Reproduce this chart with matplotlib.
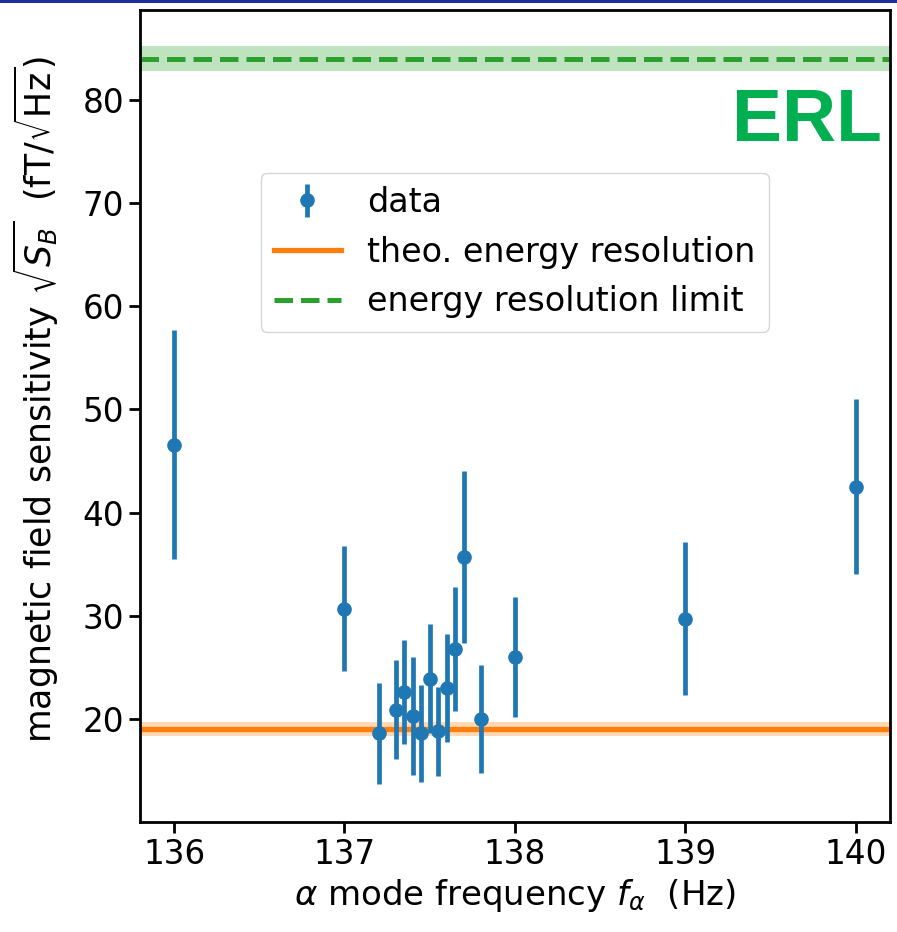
import numpy as np
import matplotlib
matplotlib.use("Agg")
import matplotlib.pyplot as plt
from matplotlib.patches import Rectangle

# measured sensitivity per alpha mode frequency
freq_Hz = [136.0, 137.0, 137.2, 137.3, 137.35, 137.4, 137.45, 137.5,
           137.55, 137.6, 137.65, 137.7, 137.8, 138.0, 139.0, 140.0]
sens = [46.6, 30.7, 18.6, 20.9, 22.6, 20.3, 18.6, 23.9,
        18.8, 23.0, 26.8, 35.7, 20.0, 26.0, 29.7, 42.5]
sens_err = [11.1, 6.1, 4.9, 4.8, 5.0, 5.7, 4.7, 5.3,
            4.3, 5.2, 6.0, 8.3, 5.2, 5.8, 7.4, 8.5]

theo_res = 19.0
theo_res_err = 0.7
erl = 84.0
erl_err = 1.2

plt.rcParams['font.family'] = 'DejaVu Sans'
plt.rcParams['mathtext.fontset'] = 'dejavusans'

fig = plt.figure(figsize=(8.97, 9.32), dpi=100)
ax = fig.add_axes([0.156, 0.118, 0.836, 0.871])

ax.axhspan(theo_res - theo_res_err, theo_res + theo_res_err,
           color='C1', alpha=0.3, lw=0)
ax.axhline(theo_res, color='C1', lw=3.8, label='theo. energy resolution')
ax.axhspan(erl - erl_err, erl + erl_err, color='C2', alpha=0.3, lw=0)
ax.axhline(erl, color='C2', lw=3.6, ls='--', label='energy resolution limit')

ax.errorbar(freq_Hz, sens, yerr=sens_err, fmt='o', color='C0',
            ms=9.5, elinewidth=3.4, capsize=0, label='data', zorder=3)

ax.set_xlim(135.8, 140.2)
ax.set_ylim(10.0, 88.7)
ax.set_xticks([136, 137, 138, 139, 140])
ax.set_yticks([20, 30, 40, 50, 60, 70, 80])
ax.tick_params(labelsize=23.5, length=8, width=2)
for sp in ax.spines.values():
    sp.set_linewidth(2)

ax.set_xlabel(r'$\alpha$ mode frequency $f_\alpha$  (Hz)', fontsize=24.5)
ax.set_ylabel(r'magnetic field sensitivity $\sqrt{S_B}$  (fT/$\sqrt{\mathrm{Hz}}$)',
              fontsize=25)
ax.yaxis.set_label_coords(-0.105, 0.52)

h, l = ax.get_legend_handles_labels()
order = [2, 0, 1]
ax.legend([h[i] for i in order], [l[i] for i in order], fontsize=24,
          loc='upper center', bbox_to_anchor=(0.5, 0.80), borderaxespad=0,
          framealpha=0.8, fancybox=True)

fig.text(0.983, 0.849, 'ERL', color='#00b050', fontsize=54,
         fontweight='bold', family='Liberation Sans', ha='right', va='baseline')

# thin title bar line along the top edge
fig.add_artist(Rectangle((0, 0.997), 1, 0.003, transform=fig.transFigure,
                         color='#1f2f9f', lw=0))

fig.savefig('out.png', dpi=100)
